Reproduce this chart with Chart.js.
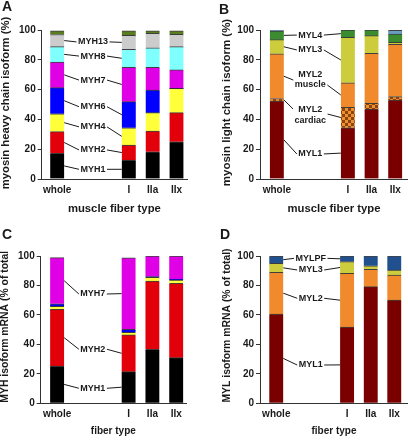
<!DOCTYPE html>
<html>
<head>
<meta charset="utf-8">
<script src="https://cdn.jsdelivr.net/npm/chart.js@4.4.0/dist/chart.umd.min.js"></script>
<style>
  html, body { margin: 0; padding: 0; background: #fff; }
  #wrap { position: relative; width: 408px; height: 440px; }
  .panel { position: absolute; width: 204px; height: 220px; }
</style>
</head>
<body>
<div id="wrap">
  <div class="panel" style="left:0;top:0"><canvas id="chartA" width="204" height="220"></canvas></div>
  <div class="panel" style="left:204px;top:0"><canvas id="chartB" width="204" height="220"></canvas></div>
  <div class="panel" style="left:0;top:220px"><canvas id="chartC" width="204" height="220"></canvas></div>
  <div class="panel" style="left:204px;top:220px"><canvas id="chartD" width="204" height="220"></canvas></div>
</div>
<script>
// categories (whole muscle, then single fibres)
const fiberTypes = ['whole', 'I', 'IIa', 'IIx'];

// A - myosin heavy chain protein (% of heavy chain)
const A_MYH1  = [17.2, 12.7, 18.3, 25.0];
const A_MYH2  = [14.6, 10.1, 13.9, 19.5];
const A_MYH4  = [12.0, 11.6, 12.3, 16.4];
const A_MYH6  = [17.5, 17.5, 15.2, 0];
const A_MYH7  = [17.2, 23.1, 15.3, 12.3];
const A_MYH8  = [10.3, 12.0, 13.1, 15.6];
const A_MYH13 = [8.2, 9.4, 9.7, 8.3];
const A_OTHER = [2.5, 3.1, 1.7, 2.4];

// B - myosin light chain protein (% of light chain)
const B_MYL1  = [52.3, 34.4, 47.0, 53.0];
const B_MYL2C = [1.7, 13.7, 3.8, 2.3];
const B_MYL2M = [30.0, 16.5, 33.6, 35.1];
const B_MYL3  = [9.5, 30.5, 11.8, 1.3];
const B_MYL4  = [5.8, 4.9, 3.8, 5.6];
const B_OTHER = [0.7, 0, 0, 2.4];

// C - MYH mRNA (% of total)
const C_MYH1 = [25.3, 21.5, 36.7, 31.0];
const C_MYH2 = [38.5, 24.9, 46.3, 50.4];
const C_MYH4 = [2.0, 1.8, 2.5, 2.3];
const C_MYH6 = [1.8, 2.0, 0.5, 0.5];
const C_MYH7 = [31.3, 48.5, 14.0, 15.8];

// D - MYL mRNA (% of total)
const D_MYL1  = [60.6, 51.8, 79.2, 70.1];
const D_MYL2  = [28.3, 36.4, 11.8, 17.0];
const D_MYL3  = [6.1, 8.0, 2.4, 3.4];
const D_MYLPF = [5.0, 3.8, 6.6, 9.5];

const yTickStep = 20;

// 'whole' sits apart from the fibre types, two empty slots in between
const slots = fiberTypes.map((t, i) => (i === 0 ? 0 : i + 2));

const fam = '"Liberation Sans", Arial, sans-serif';
const ink = '#1a1a1a';
const axisColor = '#333';

function checker() {
  const c = document.createElement('canvas');
  c.width = 6; c.height = 6;
  const g = c.getContext('2d');
  g.fillStyle = '#f0902e'; g.fillRect(0, 0, 6, 6);
  g.fillStyle = '#8a4410'; g.fillRect(0, 0, 3, 3); g.fillRect(3, 3, 3, 3);
  return g.createPattern(c, 'repeat');
}

function ds(label, values, color) {
  return {
    label,
    data: values.map((v, i) => ({ x: slots[i], y: v })),
    backgroundColor: color,
    borderColor: 'rgba(30,30,30,0.85)',
    borderWidth: { top: 1, right: 0, bottom: 0, left: 0 },
    barThickness: 14
  };
}

// labels between the 'whole' bar and the type I bar, with leader lines
function annotator(cfg) {
  return {
    id: 'annotate' + cfg.letter,
    afterDraw(chart) {
      const ctx = chart.ctx;
      const y = chart.scales.y;
      ctx.save();
      ctx.fillStyle = ink;
      ctx.strokeStyle = ink;
      ctx.lineWidth = 1;

      ctx.font = 'bold 14px ' + fam;
      ctx.textAlign = 'left';
      ctx.textBaseline = 'middle';
      ctx.fillText(cfg.letter, cfg.letterX, cfg.letterY);

      ctx.save();
      if (cfg.clipTop) {
        ctx.beginPath();
        ctx.rect(0, cfg.clipTop, chart.width, chart.height);
        ctx.clip();
      }
      ctx.translate(cfg.yTitleX, cfg.yTitleY);
      ctx.rotate(-Math.PI / 2);
      ctx.font = 'bold ' + cfg.yTitleSize + 'px ' + fam;
      ctx.textAlign = 'center';
      ctx.fillText(cfg.yTitle, 0, 0);
      ctx.restore();

      ctx.font = 'bold 9px ' + fam;
      ctx.textAlign = 'center';
      ctx.textBaseline = 'middle';
      cfg.callouts.forEach(c => {
        const bars = chart.getDatasetMeta(c.series).data;
        const a = bars[0], b = bars[1];
        const ax = a.x + a.width / 2, ay = (a.y + a.base) / 2;
        const bx = b.x - b.width / 2, by = (b.y + b.base) / 2;
        const cx = (ax + bx) / 2 + (cfg.textShift || 0);
        const w = Math.max(...c.text.map(t => ctx.measureText(t).width));
        c.text.forEach((t, i) => ctx.fillText(t, cx, y.getPixelForValue(c.at[i])));
        const ly = y.getPixelForValue(c.leftAt !== undefined ? c.leftAt : c.at[0]);
        const ry = y.getPixelForValue(c.rightAt !== undefined ? c.rightAt : c.at[0]);
        ctx.beginPath();
        ctx.moveTo(ax, ay); ctx.lineTo(cx - w / 2 - 1.5, ly);
        ctx.moveTo(cx + w / 2 + 1.5, ry); ctx.lineTo(bx, by);
        ctx.stroke();
      });
      ctx.restore();
    }
  };
}

function panel(id, datasets, g) {
  new Chart(document.getElementById(id), {
    type: 'bar',
    data: { datasets },
    options: {
      responsive: false,
      animation: false,
      devicePixelRatio: 1,
      layout: { padding: { top: g.top, right: g.right, left: 0, bottom: 0 } },
      plugins: { legend: { display: false }, tooltip: { enabled: false } },
      scales: {
        x: {
          type: 'linear',
          stacked: true,
          offset: false,
          min: g.xMin,
          max: g.xMax,
          grid: { display: false, drawTicks: false, offset: false },
          border: { display: true, color: axisColor, width: 1 },
          afterBuildTicks: s => { s.ticks = slots.map(v => ({ value: v })); },
          afterFit: s => { s.height = g.xHeight; },
          ticks: {
            autoSkip: false, maxRotation: 0, padding: g.tickPad, color: ink,
            font: { family: fam, size: 10, weight: 'bold' },
            callback: v => fiberTypes[slots.indexOf(v)]
          },
          title: {
            display: true, text: g.xTitle, color: ink,
            font: { family: fam, size: g.xTitleSize, weight: 'bold' },
            padding: { top: 0, bottom: g.titlePad }
          }
        },
        y: {
          stacked: true,
          min: 0,
          max: 100,
          afterFit: s => { s.width = g.yWidth; },
          grid: { drawOnChartArea: false, drawTicks: true, tickLength: 4, color: axisColor },
          border: { display: true, color: axisColor, width: 1 },
          ticks: {
            stepSize: yTickStep, padding: 2, color: ink,
            font: { family: fam, size: g.yTickSize, weight: 'bold' }
          }
        }
      }
    },
    plugins: [annotator(g)]
  });
}

panel('chartA', [
  ds('MYH1', A_MYH1, '#000000'),
  ds('MYH2', A_MYH2, '#e2000b'),
  ds('MYH4', A_MYH4, '#ffff3a'),
  ds('MYH6', A_MYH6, '#0000ff'),
  ds('MYH7', A_MYH7, '#e000e6'),
  ds('MYH8', A_MYH8, '#80ffff'),
  ds('MYH13', A_MYH13, '#cccccc'),
  ds('other', A_OTHER, '#5b7d22')
], {
  letter: 'A', letterX: 2, letterY: 7,
  yTitle: 'myosin heavy chain isoform (%)', yTitleX: 5.5, yTitleY: 103, yTitleSize: 11.3,
  xTitle: 'muscle fiber type', xTitleSize: 11.3,
  top: 30, right: 17, yWidth: 41.7, xHeight: 41, xMin: -0.65, xMax: 5.44,
  tickPad: 5.5, titlePad: 4.5, yTickSize: 10, textShift: 0,
  callouts: [
    { text: ['MYH13'], series: 6, at: [92] },
    { text: ['MYH8'], series: 5, at: [82.5] },
    { text: ['MYH7'], series: 4, at: [66.4] },
    { text: ['MYH6'], series: 3, at: [48.5] },
    { text: ['MYH4'], series: 2, at: [35] },
    { text: ['MYH2'], series: 1, at: [19.5] },
    { text: ['MYH1'], series: 0, at: [6.5] }
  ]
});

panel('chartB', [
  ds('MYL1', B_MYL1, '#7a0000'),
  ds('MYL2 cardiac', B_MYL2C, checker()),
  ds('MYL2 muscle', B_MYL2M, '#f08a2c'),
  ds('MYL3', B_MYL3, '#cccc3d'),
  ds('MYL4', B_MYL4, '#3a8c2e'),
  ds('other', B_OTHER, '#6a9ec0')
], {
  letter: 'B', letterX: 15, letterY: 10,
  yTitle: 'myosin light chain isoform (%)', yTitleX: 23.3, yTitleY: 102.5, yTitleSize: 11.5,
  xTitle: 'muscle fiber type', xTitleSize: 11.3,
  top: 30, right: 0, yWidth: 56, xHeight: 41, xMin: -0.71, xMax: 5.54,
  tickPad: 5.5, titlePad: 4.5, yTickSize: 10, textShift: -2,
  callouts: [
    { text: ['MYL4'], series: 4, at: [96.6] },
    { text: ['MYL3'], series: 3, at: [86.6] },
    { text: ['MYL2', 'muscle'], series: 2, at: [69.8, 63.1], leftAt: 66.4, rightAt: 63.1 },
    { text: ['MYL2', 'cardiac'], series: 1, at: [46.3, 39.1], leftAt: 47, rightAt: 43.6 },
    { text: ['MYL1'], series: 0, at: [16.8] }
  ]
});

panel('chartC', [
  ds('MYH1', C_MYH1, '#000000'),
  ds('MYH2', C_MYH2, '#e2000b'),
  ds('MYH4', C_MYH4, '#ffff3a'),
  ds('MYH6', C_MYH6, '#0000ff'),
  ds('MYH7', C_MYH7, '#e000e6')
], {
  letter: 'C', letterX: 2, letterY: 15,
  yTitle: 'MYH isoform mRNA (% of total)', yTitleX: 5.5, yTitleY: 105, yTitleSize: 10.4, clipTop: 31.5,
  xTitle: 'fiber type', xTitleSize: 10,
  top: 36, right: 18, yWidth: 40.7, xHeight: 36.7, xMin: -0.69, xMax: 5.41,
  tickPad: 4.5, titlePad: 3, yTickSize: 10, textShift: 0,
  callouts: [
    { text: ['MYH7'], series: 4, at: [74.2] },
    { text: ['MYH2'], series: 1, at: [36.7] },
    { text: ['MYH1'], series: 0, at: [10.2] }
  ]
});

panel('chartD', [
  ds('MYL1', D_MYL1, '#7a0000'),
  ds('MYL2', D_MYL2, '#f08a2c'),
  ds('MYL3', D_MYL3, '#cccc3d'),
  ds('MYLPF', D_MYLPF, '#21508f')
], {
  letter: 'D', letterX: 16, letterY: 15,
  yTitle: 'MYL isoform mRNA (% of total)', yTitleX: 23, yTitleY: 105.5, yTitleSize: 10.4,
  xTitle: 'fiber type', xTitleSize: 10,
  top: 36, right: 0, yWidth: 56, xHeight: 36.7, xMin: -0.69, xMax: 5.58,
  tickPad: 4.5, titlePad: 3, yTickSize: 10, textShift: -1,
  callouts: [
    { text: ['MYLPF'], series: 3, at: [98.4] },
    { text: ['MYL3'], series: 2, at: [90.5] },
    { text: ['MYL2'], series: 1, at: [71.3] },
    { text: ['MYL1'], series: 0, at: [26] }
  ]
});
</script>
</body>
</html>
